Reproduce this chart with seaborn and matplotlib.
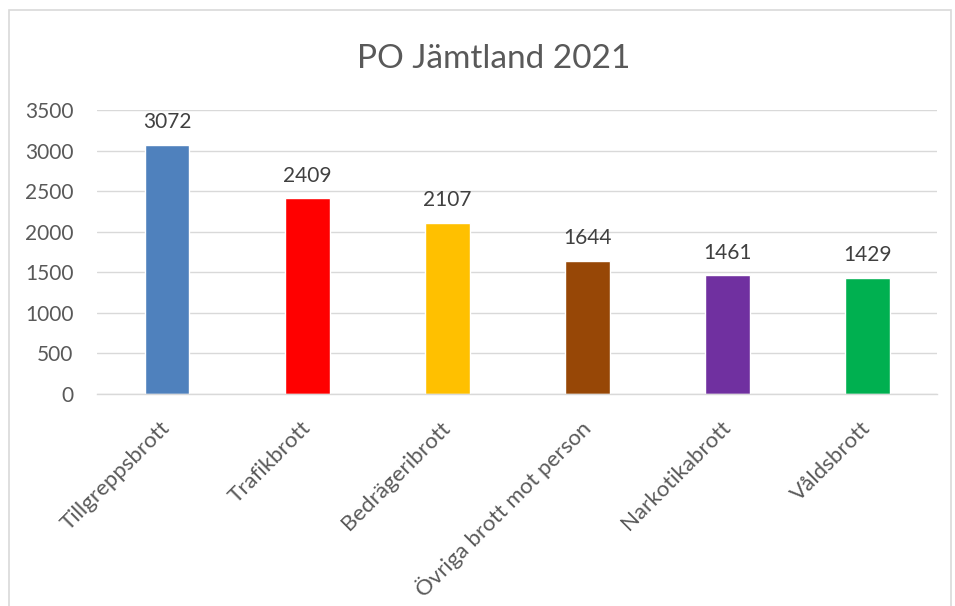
import matplotlib
matplotlib.use("Agg")
import matplotlib.pyplot as plt
import seaborn as sns
import pandas as pd
from matplotlib.patches import Rectangle

# data
kategorier = ['Tillgreppsbrott', 'Trafikbrott', 'Bedrägeribrott',
              'Övriga brott mot person', 'Narkotikabrott', 'Våldsbrott']
antal = [3072, 2409, 2107, 1644, 1461, 1429]
farger = ['#4F81BD', '#FF0000', '#FFC000', '#974706', '#7030A0', '#00B050']
yticks = [0, 500, 1000, 1500, 2000, 2500, 3000, 3500]

df = pd.DataFrame({'kategori': kategorier, 'antal': antal})

sns.set_style('white')
plt.rcParams['font.family'] = ['Lato', 'DejaVu Sans']
textfarg = '#595959'

fig = plt.figure(figsize=(9.55, 6.06), dpi=100)
ax = fig.add_axes([0.1016, 0.350, 0.880, 0.4685])

sns.barplot(data=df, x='kategori', y='antal', hue='kategori',
            palette=farger, width=0.32, legend=False, ax=ax, saturation=1)

ax.set_ylim(0, 3500)
ax.set_yticks(yticks)
ax.set_xlim(-0.5, len(kategorier) - 0.5)
ax.yaxis.grid(True, color='#d9d9d9', linewidth=1)
ax.set_axisbelow(True)
for s in ['top', 'right', 'left']:
    ax.spines[s].set_visible(False)
ax.spines['bottom'].set_color('#d9d9d9')
ax.spines['bottom'].set_linewidth(1)
ax.tick_params(axis='both', length=0, labelsize=15, colors=textfarg)
ax.tick_params(axis='y', pad=17)
ax.tick_params(axis='x', labelsize=16, pad=22)
ax.set_xlabel('')
ax.set_ylabel('')
plt.setp(ax.get_xticklabels(), rotation=45, ha='right', va='center',
         rotation_mode='anchor')

for i, v in enumerate(antal):
    ax.annotate(str(v), (i, v), xytext=(0, 12), textcoords='offset points',
                ha='center', va='baseline', fontsize=15, color='#404040')

fig.text(0.5165, 0.902, 'PO Jämtland 2021', ha='center', va='center',
         fontsize=24, color=textfarg)

# ram runt diagrammet
fig.patches.append(Rectangle((9 / 955, -0.05), 942 / 955, 1 - 10 / 606 + 0.05,
                             transform=fig.transFigure, fill=False,
                             edgecolor='#d9d9d9', linewidth=1.2))

fig.savefig('out.png', dpi=100)
